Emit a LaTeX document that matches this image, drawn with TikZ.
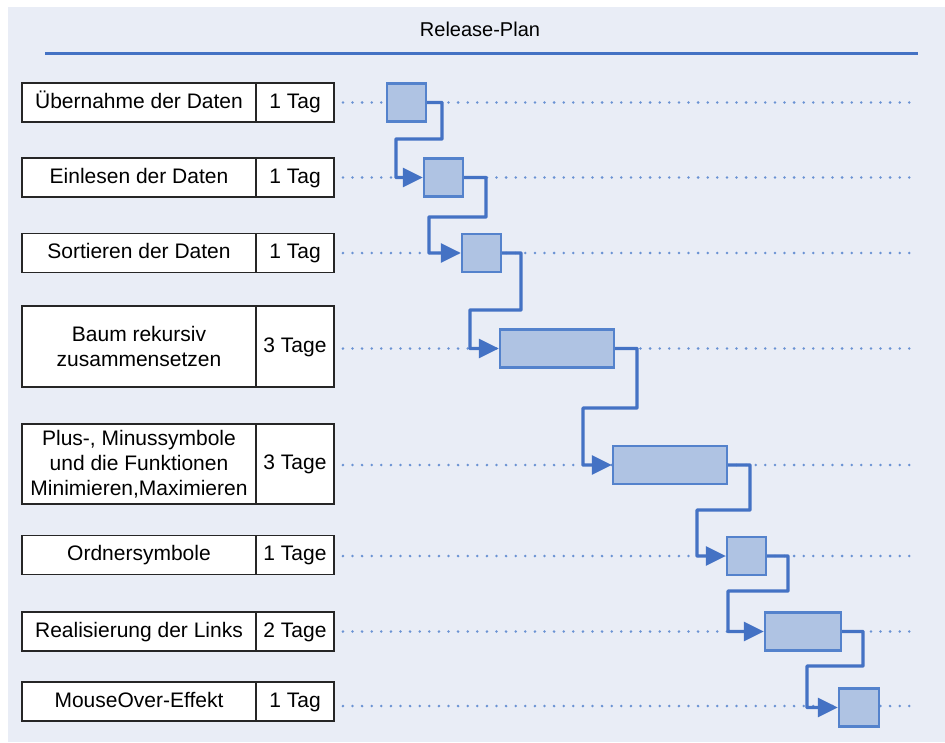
\documentclass[tikz,border=0pt]{standalone}
\usepackage{fontspec}
\setmainfont{Liberation Sans}
\usetikzlibrary{arrows.meta}
\definecolor{panelbg}{HTML}{E9EDF6}
\definecolor{barfill}{HTML}{AFC3E3}
\definecolor{barline}{HTML}{5482CC}
\definecolor{linkblue}{HTML}{4472C4}
\definecolor{dotblue}{HTML}{6A92D3}
\begin{document}
\begin{tikzpicture}[x=1pt,y=-1pt,
  txt/.style={font=\fontsize{21}{25}\selectfont},
  oneline/.style={text height=15pt, text depth=4pt},
  taskbox/.style={txt, draw=black!85, line width=1.8pt, fill=white, align=center,
    inner sep=0pt, minimum width=234pt, minimum height=39pt},
  durbox/.style={txt, oneline, draw=black!85, line width=1.8pt, fill=white, align=center,
    inner sep=0pt, minimum width=78pt, minimum height=39pt},
  bar/.style={draw=barline, line width=2.4pt, fill=barfill, inner sep=0pt,
    minimum height=38pt},
  conn/.style={draw=linkblue, line width=3.2pt, rounded corners=0.5pt,
    -{Triangle[length=20pt,width=19pt]}},
  dots/.style={draw=dotblue, line width=2.8pt, line cap=round,
    dash pattern=on 0pt off 9.6pt},
  ruleline/.style={draw=linkblue, line width=3pt}]
\useasboundingbox (0,0) rectangle (945,742);
\fill[panelbg] (8,7) rectangle (945,742);

% heading
\node[txt, font=\fontsize{20}{24}\selectfont] (title) at (480,29) {Release-Plan};
\draw[ruleline] (45,53) -- (918,53);

% task list
\node[taskbox, oneline] (t1) at (139,102.5) {Übernahme der Daten};
\node[durbox]  (d1) at (295,102.5) {1 Tag};
\node[taskbox, oneline] (t2) at (139,177.5) {Einlesen der Daten};
\node[durbox]  (d2) at (295,177.5) {1 Tag};
\node[taskbox, oneline] (t3) at (139,253) {Sortieren der Daten};
\node[durbox]  (d3) at (295,253) {1 Tag};
\node[taskbox, minimum height=81pt] (t4) at (139,346.5) {Baum rekursiv\\zusammensetzen};
\node[durbox, minimum height=81pt]  (d4) at (295,346.5) {3 Tage};
\node[taskbox, minimum height=80pt] (t5) at (139,464) {Plus-, Minussymbole\\und die Funktionen\\Minimieren,Maximieren};
\node[durbox, minimum height=80pt]  (d5) at (295,464) {3 Tage};
\node[taskbox, oneline] (t6) at (139,555) {Ordnersymbole};
\node[durbox]  (d6) at (295,555) {1 Tage};
\node[taskbox, oneline] (t7) at (139,631.5) {Realisierung der Links};
\node[durbox]  (d7) at (295,631.5) {2 Tage};
\node[taskbox, oneline] (t8) at (139,701.5) {MouseOver-Effekt};
\node[durbox]  (d8) at (295,701.5) {1 Tag};

% dotted time lines
\draw[dots] ([xshift=8pt]d1.east) -- (918,102.5);
\draw[dots] ([xshift=8pt]d2.east) -- (918,177.5);
\draw[dots] ([xshift=8pt]d3.east) -- (918,253);
\draw[dots] ([xshift=8pt]d4.east |- 0,348.5) -- (918,348.5);
\draw[dots] ([xshift=8pt]d5.east |- 0,465) -- (918,465);
\draw[dots] ([xshift=8pt]d6.east |- 0,556) -- (918,556);
\draw[dots] ([xshift=8pt]d7.east) -- (918,631.5);
\draw[dots] ([xshift=8pt]d8.east |- 0,706) -- (912,706);

% schedule bars
\node[bar, minimum width=39pt]  (b1) at (406.5,102.5) {};
\node[bar, minimum width=39pt]  (b2) at (443.5,177.5) {};
\node[bar, minimum width=39pt]  (b3) at (481.5,253) {};
\node[bar, minimum width=114pt] (b4) at (557,348.5) {};
\node[bar, minimum width=114pt] (b5) at (670,465) {};
\node[bar, minimum width=39pt]  (b6) at (746.5,556) {};
\node[bar, minimum width=76pt]  (b7) at (803,631.5) {};
\node[bar, minimum width=40pt]  (b8) at (859,707.5) {};

% dependencies
\draw[conn] (b1.east) -| (442,139) -| (396,177.5) -- (b2.west);
\draw[conn] (b2.east) -| (486,217) -| (429,253) -- (b3.west);
\draw[conn] (b3.east) -| (521,310) -| (470,348.5) -- (b4.west);
\draw[conn] (b4.east) -| (637,408) -| (583,465) -- (b5.west);
\draw[conn] (b5.east) -| (750,510) -| (697,556) -- (b6.west);
\draw[conn] (b6.east) -| (788,591) -| (728,631.5) -- (b7.west);
\draw[conn] (b7.east) -| (863,666) -| (807,707.5) -- (b8.west);
\end{tikzpicture}
\end{document}
